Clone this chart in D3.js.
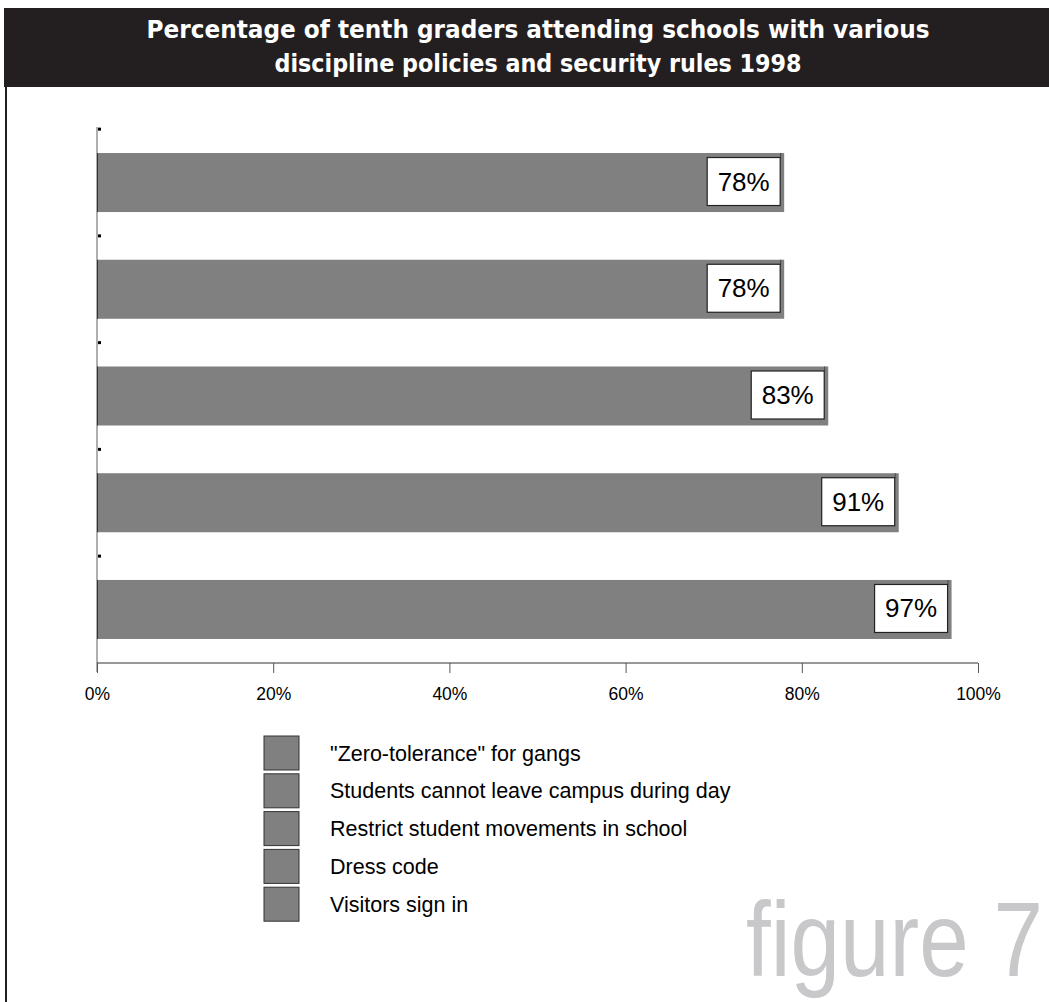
<!DOCTYPE html>
<html>
<head>
<meta charset="utf-8">
<script src="https://cdn.jsdelivr.net/npm/d3@7"></script>
<style>
  html, body { margin: 0; padding: 0; background: #fff; }
  svg { display: block; }
</style>
</head>
<body>
<svg id="chart" width="1049" height="1002"></svg>
<script>
// Policies, top to bottom, with the share of tenth graders (percent)
const categories = [
  '"Zero-tolerance" for gangs',
  "Students cannot leave campus during day",
  "Restrict student movements in school",
  "Dress code",
  "Visitors sign in"
];
const values = [78, 78, 83, 91, 97];
const xTicks = [0, 20, 40, 60, 80, 100];
const titleLines = [
  "Percentage of tenth graders attending schools with various",
  "discipline policies and security rules 1998"
];
const figureLabel = "figure 7";

const svg = d3.select("#chart");
const W = 1049, H = 1002;
const barColor = "#808080";
const bodyFont = "Liberation Sans, Arial, sans-serif";

// Heading band
svg.append("rect").attr("x", 4).attr("y", 8).attr("width", W - 4).attr("height", 79).attr("fill", "#231f20");
const titleWidths = [783, 527];
titleLines.forEach((t, i) => {
  svg.append("text")
    .attr("x", 538).attr("y", 38 + i * 34)
    .attr("text-anchor", "middle")
    .attr("fill", "#fff")
    .attr("font-family", "Liberation Sans Narrow, DejaVu Sans Condensed, DejaVu Sans, sans-serif")
    .attr("font-weight", "bold")
    .attr("font-size", 25)
    .attr("textLength", titleWidths[i])
    .attr("lengthAdjust", "spacingAndGlyphs")
    .text(t);
});

// Left page rule
svg.append("line").attr("x1", 6).attr("x2", 6).attr("y1", 87).attr("y2", H)
  .attr("stroke", "#231f20").attr("stroke-width", 2);

// Scales
const x = d3.scaleLinear().domain([0, 100]).range([97, 978]);
const y = d3.scaleBand().domain(categories).range([129, 663]).paddingInner(0.447).paddingOuter(0.225);

// Category axis (left) with short inward ticks at band boundaries
svg.append("line").attr("x1", x(0)).attr("x2", x(0)).attr("y1", 127).attr("y2", 672)
  .attr("stroke", "#7a7a7a").attr("stroke-width", 1.2);
categories.forEach(c => {
  const yb = y(c) - y.step() * y.paddingInner() / 2 - 0.5;
  svg.append("rect").attr("x", x(0) + 1).attr("y", yb - 1).attr("width", 3).attr("height", 3).attr("fill", "#000");
});

// Bars
svg.append("g").selectAll("rect").data(categories).join("rect")
  .attr("x", x(0))
  .attr("y", d => y(d))
  .attr("width", (d, i) => x(values[i]) - x(0))
  .attr("height", y.bandwidth())
  .attr("fill", barColor);
// Bar base edge
svg.append("g").selectAll("line").data(categories).join("line")
  .attr("x1", x(0) + 0.5).attr("x2", x(0) + 0.5)
  .attr("y1", d => y(d)).attr("y2", d => y(d) + y.bandwidth())
  .attr("stroke", "#333").attr("stroke-width", 1);

// Value labels in boxed callouts near the bar ends
const boxW = 73, boxH = 48;
const labels = svg.append("g").selectAll("g").data(categories).join("g")
  .attr("transform", (d, i) => `translate(${x(values[i]) - 4 - boxW},${y(d) + y.bandwidth() / 2 - boxH / 2 - 1})`);
// thin edge running from the bar top down to the box
labels.append("line")
  .attr("x1", boxW + 0.5).attr("x2", boxW + 0.5)
  .attr("y1", -(y.bandwidth() - boxH) / 2 + 1).attr("y2", 0)
  .attr("stroke", "#444").attr("stroke-width", 1);
labels.append("rect").attr("width", boxW).attr("height", boxH)
  .attr("fill", "#fff").attr("stroke", "#222").attr("stroke-width", 1.2);
labels.append("text")
  .attr("x", boxW / 2).attr("y", boxH / 2 + 9)
  .attr("text-anchor", "middle")
  .attr("font-family", bodyFont)
  .attr("font-size", 26)
  .attr("fill", "#000")
  .text((d, i) => values[i] + "%");

// Value axis
const xAxis = d3.axisBottom(x).tickValues(xTicks).tickSize(10).tickPadding(15)
  .tickFormat(d => d + "%");
const gx = svg.append("g").attr("transform", "translate(0,663)").call(xAxis);
gx.select(".domain").attr("stroke", "#333").attr("d", `M${x(0)},0H${x(100)}`);
gx.selectAll(".tick line").attr("stroke", "#555");
gx.selectAll(".tick text")
  .attr("font-family", bodyFont)
  .attr("font-size", 17.5)
  .attr("fill", "#000");

// Legend
const legend = svg.append("g").attr("transform", "translate(264,736)");
const legendStep = 37.8;
const items = legend.selectAll("g").data(categories).join("g")
  .attr("transform", (d, i) => `translate(0,${i * legendStep})`);
items.append("rect").attr("width", 35).attr("height", 34)
  .attr("fill", barColor).attr("stroke", "#333").attr("stroke-width", 1);
items.append("text")
  .attr("x", 66).attr("y", 17).attr("dy", "0.35em")
  .attr("font-family", bodyFont)
  .attr("font-size", 21.5)
  .attr("fill", "#000")
  .text(d => d);

// Figure number, horizontally narrowed to fit the lower-right corner
const figG = svg.append("g");
const figText = figG.append("text")
  .attr("x", 0).attr("y", 0)
  .attr("font-family", bodyFont)
  .attr("font-size", 106)
  .attr("fill", "#c8c8ca")
  .style("font-variant-ligatures", "none")
  .text(figureLabel);
const natural = figText.node().getComputedTextLength();
figG.attr("transform", `translate(746,976) scale(${297 / natural},1)`);
</script>
</body>
</html>
